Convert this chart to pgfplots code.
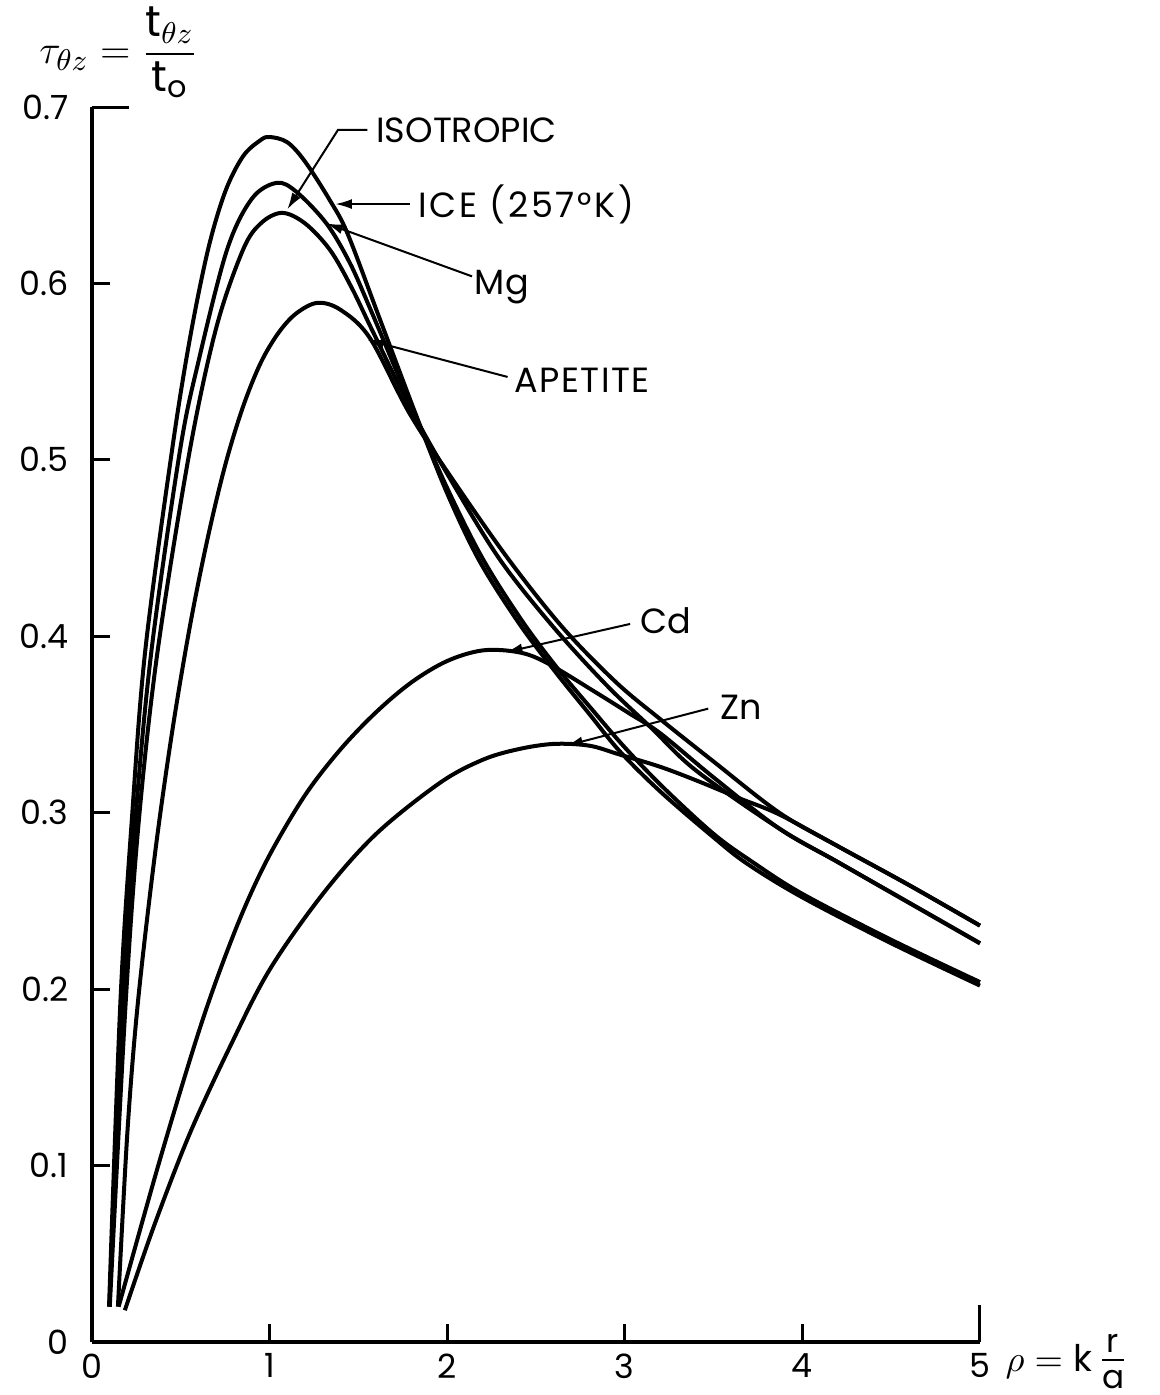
\documentclass[border=0pt]{standalone}
\usepackage{amsmath}
\usepackage{fontspec}
\setmainfont{Poppins}
\usepackage{pgfplots}
\pgfplotsset{compat=1.18}
\usetikzlibrary{arrows.meta}

\newcommand\lbl{\fontsize{10.5}{12}\selectfont}

\begin{document}
\begin{tikzpicture}
\path[use as bounding box] (-27.6pt,-15.9pt) rectangle (320.4pt,402.6pt);
\begin{axis}[
  scale only axis, width=266.4pt, height=370.5pt,
  xmin=0, xmax=5, ymin=0, ymax=0.7,
  axis lines=left, axis line style={-, line width=1.3pt},
  clip=false,
  xtick={0,1,2,3,4,5}, xticklabels={0,1,2,3,4,5},
  ytick={0,0.1,0.2,0.3,0.4,0.5,0.6,0.7},
  yticklabels={0,0.1,0.2,0.3,0.4,0.5,0.6,0.7},
  tick align=inside, major tick length=5.5pt,
  tick style={line width=0.9pt, black},
  ticklabel style={font=\fontsize{10}{12}\selectfont},
  yticklabel style={xshift=-3.5pt},
  curve/.style={black, line width=1.2pt, smooth, tension=0.55, mark=none},
]
% ICE (257 K)
\addplot[curve] coordinates {(0.096,0.02) (0.16,0.193) (0.225,0.297) (0.30,0.392) (0.45,0.505) (0.55,0.568) (0.653,0.619) (0.75,0.652) (0.85,0.672) (0.946,0.681) (1.0,0.683) (1.1,0.680) (1.2,0.669) (1.34,0.647) (1.44,0.628) (1.62,0.58) (1.83,0.524) (2.0,0.481) (2.18,0.443) (2.4,0.408) (2.6,0.381) (2.8,0.356) (2.97,0.335) (3.2,0.312) (3.5,0.286) (3.69,0.271) (4.0,0.252) (4.5,0.226) (5.0,0.202)};
% Mg
\addplot[curve] coordinates {(0.098,0.02) (0.175,0.193) (0.245,0.297) (0.335,0.392) (0.495,0.505) (0.60,0.556) (0.76,0.619) (0.9,0.648) (1.04,0.657) (1.15,0.652) (1.32,0.634) (1.45,0.612) (1.565,0.586) (1.8,0.53) (2.0,0.484) (2.2,0.444) (2.42,0.409) (2.62,0.382) (2.82,0.358) (3.0,0.337) (3.22,0.314) (3.5,0.288) (3.72,0.272) (4.0,0.254) (4.5,0.228) (5.0,0.204)};
% isotropic
\addplot[curve] coordinates {(0.10,0.02) (0.19,0.193) (0.265,0.297) (0.37,0.392) (0.55,0.505) (0.70,0.575) (0.85,0.619) (0.95,0.634) (1.07,0.640) (1.2,0.634) (1.34,0.619) (1.46,0.598) (1.58,0.573) (1.8,0.528) (2.03,0.487) (2.3,0.443) (2.6,0.405) (2.9,0.372) (3.15,0.348) (3.4,0.324) (3.87,0.291) (4.2,0.272) (4.6,0.249) (5.0,0.226)};
% apetite
\addplot[curve] coordinates {(0.146,0.02) (0.20,0.12) (0.259,0.193) (0.355,0.277) (0.45,0.345) (0.55,0.405) (0.65,0.455) (0.75,0.497) (0.85,0.530) (0.95,0.555) (1.05,0.572) (1.15,0.583) (1.27,0.589) (1.4,0.585) (1.565,0.569) (1.79,0.526) (2.05,0.486) (2.35,0.443) (2.65,0.405) (2.95,0.374) (3.2,0.353) (3.5,0.329) (3.87,0.300) (4.2,0.281) (4.6,0.259) (5.0,0.236)};
% Cd
\addplot[curve] coordinates {(0.15,0.02) (0.37,0.099) (0.57,0.166) (0.70,0.205) (0.85,0.244) (1.0,0.276) (1.2,0.31) (1.4,0.336) (1.6,0.357) (1.8,0.374) (2.0,0.386) (2.2,0.392) (2.4,0.391) (2.56,0.385) (2.84,0.368) (3.03,0.356) (3.2,0.345) (3.5,0.32) (3.87,0.291) (4.2,0.272) (4.6,0.249) (5.0,0.226)};
% Zn
\addplot[curve] coordinates {(0.185,0.018) (0.35,0.066) (0.55,0.118) (0.78,0.168) (1.0,0.211) (1.3,0.254) (1.6,0.288) (1.96,0.317) (2.2,0.330) (2.4,0.336) (2.6,0.339) (2.8,0.338) (2.97,0.333) (3.2,0.326) (3.41,0.318) (3.65,0.308) (3.87,0.299) (4.2,0.281) (4.6,0.259) (5.0,0.236)};

% longer end ticks
\draw[line width=0.9pt] (axis cs:0,0.7) -- ++(11pt,0);
\draw[line width=0.9pt] (axis cs:5,0) -- ++(0,11pt);

% leaders and labels
\begin{scope}[line width=0.6pt, -{Latex[length=5pt,width=3pt]}]
\draw (axis cs:1.55,0.687) -- (axis cs:1.385,0.687) -- (axis cs:1.10,0.642);
\draw (axis cs:1.79,0.645) -- (axis cs:1.37,0.645);
\draw (axis cs:2.14,0.604) -- (axis cs:1.32,0.634);
\draw (axis cs:2.34,0.547) -- (axis cs:1.55,0.568);
\draw (axis cs:3.03,0.407) -- (axis cs:2.33,0.391);
\draw (axis cs:3.47,0.359) -- (axis cs:2.67,0.338);
\end{scope}
\node[anchor=west, font=\lbl] at (axis cs:1.535,0.687) {ISOTROPIC};
\node[anchor=west, font=\lbl\addfontfeatures{LetterSpace=8}] at (axis cs:1.77,0.645) {ICE (257°K)};
\node[anchor=west, font=\lbl] at (axis cs:2.09,0.598) {Mg};
\node[anchor=west, font=\lbl\addfontfeatures{LetterSpace=4}] at (axis cs:2.315,0.545) {APETITE};
\node[anchor=west, font=\lbl] at (axis cs:3.02,0.409) {Cd};
\node[anchor=west, font=\lbl] at (axis cs:3.475,0.360) {Zn};

% axis titles
\node[font=\fontsize{13}{15}\selectfont] at (axis cs:0.15,0.731)
  {$\tau_{\theta z}=\dfrac{\mathrm{t}_{\theta z}}{\mathrm{t}_{\mathrm{o}}}$};
\node[anchor=west, inner sep=0pt, font=\fontsize{11}{13}\selectfont] at (axis cs:5.14,-0.011)
  {$\rho=\mathrm{k}$\,{\fontsize{14}{16}\selectfont$\genfrac{}{}{}{1}{\mathrm{r}}{\mathrm{a}}$}};
\end{axis}
\end{tikzpicture}
\end{document}
